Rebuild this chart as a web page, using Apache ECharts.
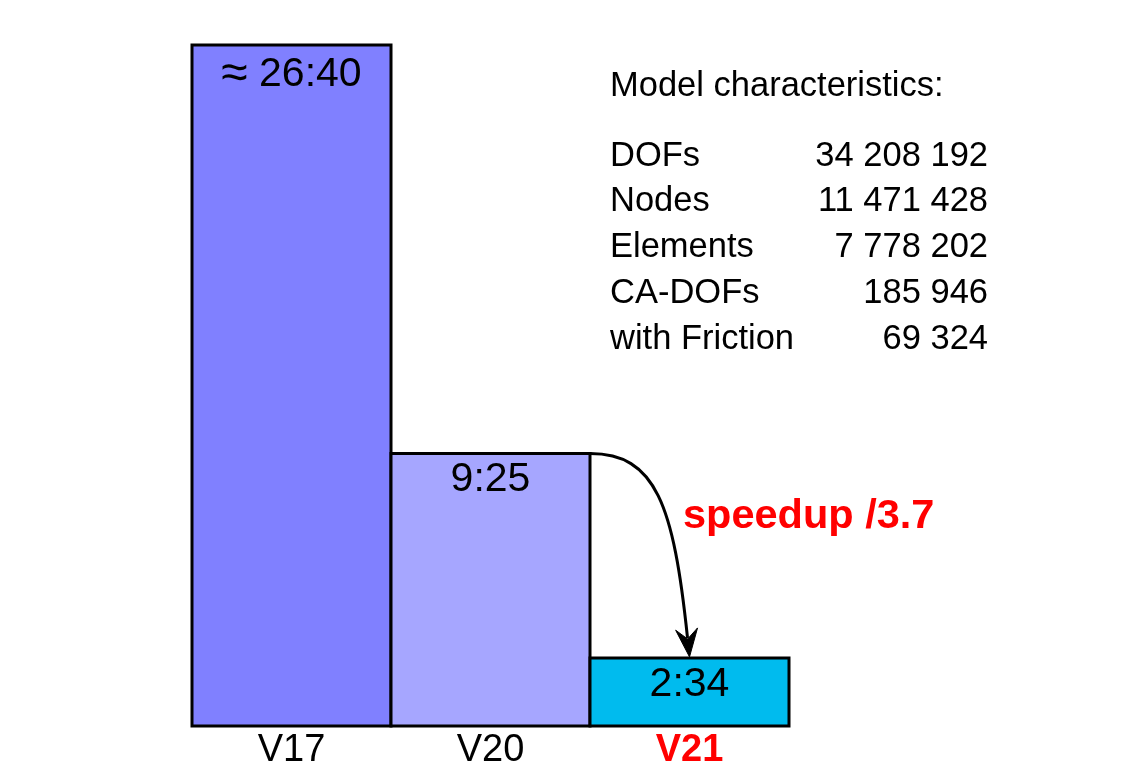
<!DOCTYPE html>
<html>
<head>
<meta charset="utf-8">
<script src="https://cdn.jsdelivr.net/npm/echarts@6/dist/echarts.min.js"></script>
<style>
  html, body { margin: 0; padding: 0; background: #fff; }
  #chart { width: 1138px; height: 782px; }
</style>
</head>
<body>
<div id="chart"></div>
<script>
// versions and relative bar heights (schematic, as drawn)
var versions = ['V17', 'V20', 'V21']
var barHeights = [10, 4, 1]
var timeLabels = ['{ap|\u2248} 26:40', '9:25', '2:34']
var barColors = ['#8080ff', '#a6a6ff', '#00bbee']

var tableTitle = 'Model characteristics:'
var tableNames = ['DOFs', 'Nodes', 'Elements', 'CA-DOFs', 'with Friction']
var tableValues = ['34 208 192', '11 471 428', '7 778 202', '185 946', '69 324']
var speedupText = 'speedup /3.7'

var font = '"Liberation Sans", Arial, Helvetica, sans-serif'

var chart = echarts.init(document.getElementById('chart'), null, { renderer: 'canvas' })

function renderBar(params, api) {
  var i = api.value(0)
  var top = api.coord([i, api.value(1)])
  var bottom = api.coord([i, 0])
  var band = api.size([1, 0])[0]
  var x0 = top[0] - band / 2
  return {
    type: 'group',
    children: [{
      type: 'rect',
      shape: { x: x0, y: top[1], width: band, height: bottom[1] - top[1] },
      style: { fill: barColors[i], stroke: '#000', lineWidth: 3 }
    }, {
      type: 'text',
      x: top[0],
      y: top[1] + 6,
      z2: 10,
      style: {
        text: timeLabels[i],
        font: '41px ' + font,
        fill: '#000',
        textAlign: 'center',
        textVerticalAlign: 'top',
        rich: { ap: { fontSize: 48, fontFamily: font } }
      }
    }]
  }
}

var option = {
  animation: false,
  grid: { left: 192, right: 349, top: 45, bottom: 56 },
  xAxis: {
    type: 'category',
    data: versions,
    axisLine: { show: false },
    axisTick: { show: false },
    axisLabel: {
      margin: 6,
      fontSize: 38,
      fontFamily: font,
      color: '#000',
      formatter: function (v) {
        return v === 'V21' ? '{hl|' + v + '}' : v
      },
      rich: {
        hl: { color: '#ff0000', fontWeight: 'bold', fontSize: 38, fontFamily: font }
      }
    }
  },
  yAxis: {
    type: 'value',
    min: 0,
    max: 10,
    show: false,
    splitLine: { show: false }
  },
  series: [{
    type: 'custom',
    renderItem: renderBar,
    data: barHeights.map(function (v, i) { return [i, v] })
  }]
}

chart.setOption(option)

function drawAnnotations() {
  var elements = []

  // table of model characteristics
  elements.push({
    type: 'text', x: 610, y: 86,
    style: { text: tableTitle, font: '34.5px ' + font, fill: '#000', textAlign: 'left', textVerticalAlign: 'middle' }
  })
  tableNames.forEach(function (name, i) {
    var y = 156 + i * 45.75
    elements.push({
      type: 'text', x: 610, y: y,
      style: { text: name, font: '34.5px ' + font, fill: '#000', textAlign: 'left', textVerticalAlign: 'middle' }
    })
    elements.push({
      type: 'text', x: 988, y: y,
      style: { text: tableValues[i], font: '34.5px ' + font, fill: '#000', textAlign: 'right', textVerticalAlign: 'middle' }
    })
  })

  elements.push({
    type: 'text', x: 683, y: 517,
    style: { text: speedupText, font: 'bold 41.5px ' + font, fill: '#ff0000', textAlign: 'left', textVerticalAlign: 'middle' }
  })

  // arrow from V20 top-right corner down to V21 top
  var c17 = chart.convertToPixel({ gridIndex: 0 }, [0, 0])
  var c20 = chart.convertToPixel({ gridIndex: 0 }, [1, barHeights[1]])
  var c21 = chart.convertToPixel({ gridIndex: 0 }, [2, barHeights[2]])
  var band = c20[0] - c17[0]
  var sx = c20[0] + band / 2, sy = c20[1]
  var ex = c21[0], ey = c21[1] - 1
  var dx = ex - sx, dy = ey - sy
  var p1 = [sx + 0.66 * dx, sy]
  var p2 = [sx + 0.84 * dx, sy + 0.25 * dy]
  // direction at end
  var ux = ex - p2[0], uy = ey - p2[1]
  var len = Math.sqrt(ux * ux + uy * uy)
  ux /= len; uy /= len
  var nx = -uy, ny = ux
  var headLen = 28, headW = 11, notch = 18
  var tip = [ex, ey]
  var base = [ex - ux * headLen, ey - uy * headLen]
  var mid = [ex - ux * notch, ey - uy * notch]
  var endLine = [ex - ux * (notch + 1), ey - uy * (notch + 1)]

  elements.push({
    type: 'bezierCurve',
    shape: {
      x1: sx, y1: sy,
      cpx1: p1[0], cpy1: p1[1],
      cpx2: p2[0], cpy2: p2[1],
      x2: endLine[0], y2: endLine[1]
    },
    style: { stroke: '#000', lineWidth: 3, fill: null }
  })
  elements.push({
    type: 'polygon',
    shape: {
      points: [
        tip,
        [base[0] + nx * headW, base[1] + ny * headW],
        mid,
        [base[0] - nx * headW, base[1] - ny * headW]
      ]
    },
    style: { fill: '#000', stroke: '#000', lineWidth: 1 }
  })

  chart.setOption({ graphic: { elements: elements } })
}

drawAnnotations()
</script>
</body>
</html>
